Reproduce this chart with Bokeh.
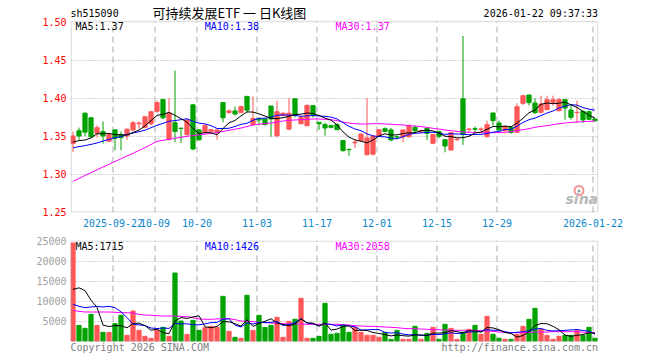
from bokeh.plotting import figure
from bokeh.models import (Range1d, FixedTicker, Label, ColumnDataSource,
                          PrintfTickFormatter, BoxAnnotation)
from bokeh.layouts import column
from bokeh.embed import file_html
from bokeh.resources import INLINE

# ---------------- data ----------------
open_ = [1.340, 1.357, 1.380, 1.374, 1.3535, 1.356, 1.343, 1.358, 1.352, 1.350,
         1.358, 1.366, 1.3614, 1.366, 1.3825, 1.398, 1.346, 1.3675, 1.3602, 1.352,
         1.391, 1.358, 1.355, 1.3557, 1.355, 1.394, 1.381, 1.383, 1.381, 1.402,
         1.365, 1.373, 1.3724, 1.3895, 1.350, 1.377, 1.359, 1.399, 1.366, 1.3636,
         1.390, 1.368, 1.365, 1.3636, 1.365, 1.344, 1.3325, 1.341, 1.344, 1.3254,
         1.326, 1.350, 1.3596, 1.358, 1.349, 1.349, 1.349, 1.3614, 1.3557, 1.360,
         1.3404, 1.3557, 1.3452, 1.3316, 1.3450, 1.399, 1.3588, 1.3596, 1.3588, 1.3491,
         1.3803, 1.3671, 1.3570, 1.3614, 1.3548, 1.3930, 1.4040, 1.3934, 1.3811, 1.3846,
         1.3943, 1.3833, 1.3978, 1.3842, 1.3807, 1.3825, 1.3820, 1.3724]
high = [1.356, 1.361, 1.381, 1.375, 1.364, 1.369, 1.353, 1.359, 1.356, 1.360,
        1.370, 1.369, 1.376, 1.382, 1.3965, 1.398, 1.400, 1.436, 1.3602, 1.372,
        1.392, 1.359, 1.366, 1.359, 1.358, 1.394, 1.385, 1.3886, 1.390, 1.403,
        1.402, 1.374, 1.3724, 1.3895, 1.3965, 1.381, 1.400, 1.399, 1.3768, 1.392,
        1.390, 1.368, 1.3675, 1.365, 1.3667, 1.3447, 1.3325, 1.346, 1.3526, 1.400,
        1.350, 1.359, 1.3614, 1.3605, 1.3504, 1.358, 1.365, 1.3636, 1.358, 1.3614,
        1.3526, 1.357, 1.3452, 1.3544, 1.3469, 1.4816, 1.3601, 1.3627, 1.3614, 1.3702,
        1.3803, 1.3702, 1.3627, 1.3632, 1.3930, 1.4031, 1.4040, 1.3996, 1.4031, 1.4031,
        1.4031, 1.4000, 1.3978, 1.3912, 1.3965, 1.3833, 1.3833, 1.3730]
low = [1.329, 1.345, 1.350, 1.348, 1.348, 1.340, 1.342, 1.331, 1.331, 1.345,
       1.356, 1.359, 1.360, 1.364, 1.381, 1.372, 1.344, 1.342, 1.341, 1.350,
       1.331, 1.344, 1.353, 1.355, 1.345, 1.368, 1.379, 1.3768, 1.380, 1.381,
       1.3636, 1.364, 1.364, 1.349, 1.350, 1.376, 1.358, 1.3745, 1.3658, 1.3627,
       1.3745, 1.358, 1.3504, 1.360, 1.358, 1.3294, 1.324, 1.334, 1.343, 1.3246,
       1.3246, 1.349, 1.3548, 1.343, 1.346, 1.3417, 1.348, 1.3535, 1.3535, 1.3447,
       1.3395, 1.3469, 1.3285, 1.3307, 1.3439, 1.3382, 1.3548, 1.3548, 1.3548, 1.3482,
       1.3636, 1.3570, 1.3557, 1.3530, 1.3539, 1.3908, 1.3904, 1.3793, 1.3803, 1.3842,
       1.3899, 1.3825, 1.3715, 1.3715, 1.3671, 1.3671, 1.3711, 1.3697]
close = [1.350, 1.350, 1.355, 1.349, 1.361, 1.350, 1.352, 1.347, 1.348, 1.359,
         1.3675, 1.367, 1.3754, 1.382, 1.394, 1.374, 1.380, 1.356, 1.3600, 1.371,
         1.333, 1.345, 1.3636, 1.3583, 1.358, 1.374, 1.383, 1.379, 1.3886, 1.384,
         1.373, 1.371, 1.365, 1.3724, 1.382, 1.380, 1.380, 1.377, 1.3746, 1.390,
         1.3768, 1.366, 1.3605, 1.3614, 1.3583, 1.3307, 1.332, 1.342, 1.3526, 1.3474,
         1.350, 1.3583, 1.3561, 1.3447, 1.3487, 1.358, 1.3636, 1.357, 1.357, 1.3535,
         1.3518, 1.3496, 1.3368, 1.3544, 1.3456, 1.3522, 1.3592, 1.3588, 1.3592, 1.3649,
         1.3702, 1.3579, 1.3627, 1.3548, 1.3886, 1.4031, 1.3939, 1.3807, 1.3921, 1.3978,
         1.3978, 1.3978, 1.3868, 1.3746, 1.3811, 1.3711, 1.3720, 1.3700]
volume = [24500, 3900, 3170, 6670, 3900, 2170, 2170, 4330, 6420, 1420,
          7500, 2670, 1170, 670, 2670, 3420, 1170, 17000, 5000, 1670,
          5170, 2670, 3330, 3670, 3420, 11170, 2420, 920, 670, 11420,
          2670, 6420, 3420, 3920, 5920, 920, 4920, 5420, 10670, 670,
          670, 1170, 9420, 1670, 1920, 3920, 2170, 3420, 2170, 1420,
          1420, 920, 2170, 420, 2670, 420, 420, 3670, 420, 1920,
          3420, 420, 4170, 3170, 420, 2170, 2920, 3920, 1670, 6170,
          1670, 670, 420, 420, 1670, 3670, 5420, 8170, 2920, 1420,
          420, 1170, 1420, 1420, 2670, 1420, 3420, 670]
ma5 = [1.3421, 1.3439, 1.3447, 1.3474, 1.3530, 1.3530, 1.3534, 1.3518, 1.3516, 1.3512,
       1.3547, 1.3577, 1.3634, 1.3702, 1.3772, 1.3785, 1.3811, 1.3772, 1.3728, 1.3682,
       1.3600, 1.3530, 1.3545, 1.3542, 1.3516, 1.3598, 1.3674, 1.3705, 1.3765, 1.3817,
       1.3815, 1.3791, 1.3763, 1.3731, 1.3727, 1.3741, 1.3759, 1.3783, 1.3787, 1.3803,
       1.3797, 1.3769, 1.3736, 1.3709, 1.3646, 1.3554, 1.3486, 1.3449, 1.3431, 1.3409,
       1.3448, 1.3501, 1.3529, 1.3513, 1.3516, 1.3532, 1.3542, 1.3544, 1.3569, 1.3578,
       1.3566, 1.3538, 1.3497, 1.3492, 1.3476, 1.3477, 1.3496, 1.3540, 1.3550, 1.3589,
       1.3625, 1.3622, 1.3630, 1.3621, 1.3668, 1.3734, 1.3806, 1.3842, 1.3917, 1.3935,
       1.3925, 1.3932, 1.3945, 1.3910, 1.3876, 1.3823, 1.3771, 1.3738]
ma10 = [1.3345, 1.3360, 1.3373, 1.3390, 1.3408, 1.3434, 1.3456, 1.3478, 1.3491, 1.3521,
        1.3539, 1.3556, 1.3576, 1.3609, 1.3642, 1.3666, 1.3694, 1.3703, 1.3715, 1.3727,
        1.3692, 1.3670, 1.3659, 1.3635, 1.3599, 1.3599, 1.3602, 1.3625, 1.3654, 1.3667,
        1.3707, 1.3733, 1.3734, 1.3748, 1.3772, 1.3778, 1.3775, 1.3773, 1.3759, 1.3765,
        1.3769, 1.3764, 1.3759, 1.3748, 1.3725, 1.3675, 1.3627, 1.3592, 1.3570, 1.3528,
        1.3501, 1.3493, 1.3489, 1.3472, 1.3463, 1.3490, 1.3521, 1.3536, 1.3541, 1.3547,
        1.3549, 1.3540, 1.3521, 1.3530, 1.3527, 1.3522, 1.3517, 1.3519, 1.3521, 1.3533,
        1.3551, 1.3559, 1.3585, 1.3586, 1.3629, 1.3679, 1.3714, 1.3736, 1.3769, 1.3802,
        1.3829, 1.3869, 1.3893, 1.3913, 1.3906, 1.3874, 1.3852, 1.3841]
ma30 = [1.2905, 1.2942, 1.2980, 1.3018, 1.3055, 1.3092, 1.3128, 1.3165, 1.3200, 1.3237,
        1.3272, 1.3310, 1.3348, 1.3388, 1.3430, 1.3443, 1.3456, 1.3470, 1.3483, 1.3496,
        1.3505, 1.3515, 1.3525, 1.3535, 1.3545, 1.3560, 1.3575, 1.3590, 1.3605, 1.3625,
        1.3645, 1.3654, 1.3662, 1.3671, 1.3684, 1.3697, 1.3706, 1.3711, 1.3715, 1.3719,
        1.3724, 1.3724, 1.3719, 1.3715, 1.3702, 1.3684, 1.3671, 1.3662, 1.3658, 1.3658,
        1.3662, 1.3662, 1.3658, 1.3654, 1.3649, 1.3645, 1.3636, 1.3632, 1.3623, 1.3614,
        1.3601, 1.3592, 1.3579, 1.3570, 1.3561, 1.3553, 1.3548, 1.3548, 1.3544, 1.3544,
        1.3544, 1.3544, 1.3548, 1.3557, 1.3570, 1.3583, 1.3596, 1.3614, 1.3627, 1.3636,
        1.3649, 1.3662, 1.3671, 1.3680, 1.3684, 1.3689, 1.3693, 1.3697]
vma5 = [12900, 13300, 12600, 10200, 8428, 3962, 3616, 3848, 3798, 3302,
        4368, 4468, 3836, 2686, 2936, 2120, 1820, 4986, 5852, 5652,
        6002, 6302, 3568, 3302, 3652, 4852, 4802, 4320, 3720, 5320,
        3620, 4420, 4920, 5570, 4470, 4120, 3820, 4220, 5570, 4520,
        4470, 3720, 4520, 2720, 2970, 3620, 3820, 2620, 2720, 2620,
        2120, 1870, 1620, 1270, 1520, 1320, 1220, 1520, 1520, 1370,
        1970, 1970, 2070, 2620, 2320, 2070, 2570, 2520, 2220, 3370,
        3270, 2820, 2120, 1870, 970, 1370, 2320, 3870, 4370, 4320,
        3670, 2820, 1470, 1170, 1420, 1620, 2070, 1920]
vma10 = [9170, 8670, 8330, 8500, 8670, 8500, 8670, 8330, 7300, 5865,
         4165, 4042, 3842, 3242, 3119, 3244, 3144, 4411, 4269, 4294,
         4061, 4061, 4277, 4577, 4652, 5427, 5552, 3944, 3511, 4486,
         4236, 4611, 4620, 4645, 4895, 3870, 4120, 4570, 5570, 4495,
         4295, 3770, 4370, 4145, 3745, 4045, 3770, 3570, 2720, 2795,
         2870, 2845, 2120, 1995, 2070, 1720, 1545, 1570, 1395, 1445,
         1645, 1595, 1795, 2070, 1845, 2020, 2270, 2295, 2420, 2845,
         2670, 2695, 2320, 2045, 2170, 2320, 2570, 2995, 3120, 2645,
         2520, 2570, 2670, 2770, 2870, 2645, 2445, 1695]
vma30 = [7670, 7420, 7250, 7250, 7250, 7250, 7250, 7170, 7080, 7080,
         7000, 6670, 6500, 6420, 6330, 6250, 6250, 6250, 6170, 6080,
         5830, 5500, 5420, 5420, 5500, 5580, 5580, 5330, 5000, 4920,
         4830, 4670, 4580, 4500, 4420, 4330, 4250, 4250, 4250, 4170,
         4170, 4170, 4170, 4170, 4170, 4080, 4000, 3830, 3750, 3670,
         3670, 3580, 3500, 3420, 3330, 3170, 3080, 3080, 3000, 2920,
         2830, 2830, 2750, 2670, 2670, 2670, 2670, 2670, 2580, 2500,
         2420, 2250, 2170, 2080, 2080, 2080, 2170, 2250, 2250, 2250,
         2330, 2330, 2330, 2330, 2330, 2200, 2150, 2100]
date_labels = ["2025-09-22", "10-09", "10-20", "11-03", "11-17",
               "12-01", "12-15", "12-29", "2026-01-22"]
date_index = [7, 14, 21, 31, 41, 51, 61, 71, 87]
price_ticks = [1.25, 1.30, 1.35, 1.40, 1.45, 1.50]
vol_ticks = [5000, 10000, 15000, 20000, 25000]
legend_price = ["MA5:1.37", "MA10:1.38", "MA30:1.37"]
legend_vol = ["MA5:1715", "MA10:1426", "MA30:2058"]

# ---------------- styling ----------------
RED = "#ff5757"
GREEN = "#00a300"
MONO = "DejaVu Sans Mono"
GRIDC = "#ababab"
BORDC = "#9a9a9a"
W = 656

n = len(close)
xs = [i + 1.0 / 3.0 for i in range(n)]
colors = [RED if c >= o else GREEN for o, c in zip(open_, close)]
src = ColumnDataSource(dict(
    x=xs, open=open_, high=high, low=low, close=close,
    top=[max(o, c) for o, c in zip(open_, close)],
    bottom=[min(o, c) for o, c in zip(open_, close)],
    color=colors, volume=volume,
    ma5=ma5, ma10=ma10, ma30=ma30, vma5=vma5, vma10=vma10, vma30=vma30))

# page-pixel helpers (frame of price panel spans page y 0..212, volume 240..356)
X0 = -1.0 / 12.0
xr = Range1d(X0, X0 + 88)
PEND = 1.50 + 0.5 / 760            # price at page y = 21
yr = Range1d(1.25 - 0.5 / 760, PEND + 21 / 760)
VEND = 25125                       # volume at page y = 240
vr = Range1d(VEND - 116 * 250, VEND)


def X(px):
    return X0 + (px - 70) / 6.0


def PY(py):
    return PEND - (py - 21) / 760.0


def VY(py):
    return VEND - (py - 240) * 250.0


def lab(fig, x, y, text, color="black", align="left", font=MONO, size="10px"):
    fig.add_layout(Label(x=x, y=y, text=text, text_font=font, text_font_size=size,
                         text_color=color, text_align=align, text_baseline="middle"))


def base(fig):
    fig.outline_line_color = None
    fig.background_fill_color = "white"
    fig.border_fill_color = "white"
    fig.yaxis.major_label_text_font = MONO
    fig.yaxis.major_label_text_font_size = "10px"
    fig.yaxis.major_label_standoff = 4
    fig.yaxis.axis_line_color = None
    fig.yaxis.major_tick_line_color = None
    fig.yaxis.minor_tick_line_color = None
    fig.yaxis.major_tick_out = 0
    fig.yaxis.major_tick_in = 0
    fig.ygrid.grid_line_color = GRIDC
    fig.ygrid.grid_line_dash = "1 2"


# ---------------- price panel (page y 0..234) ----------------
p = figure(width=W, height=234, x_range=xr, y_range=yr,
           output_backend="svg", toolbar_location=None,
           min_border_left=70, min_border_right=W - 598,
           min_border_top=0, min_border_bottom=22)
base(p)
p.xaxis.ticker = FixedTicker(ticks=date_index)
p.xaxis.major_label_overrides = dict(zip(date_index, date_labels))
p.xaxis.major_label_text_color = "#0a86cc"
p.xaxis.major_label_text_font = MONO
p.xaxis.major_label_text_font_size = "10px"
p.xaxis.major_label_standoff = 6
p.xaxis.axis_line_color = None
p.xaxis.major_tick_line_color = None
p.xaxis.minor_tick_line_color = None
p.xaxis.major_tick_out = 0
p.xaxis.major_tick_in = 0
p.xgrid.grid_line_color = None
p.yaxis.ticker = FixedTicker(ticks=price_ticks)
p.yaxis.formatter = PrintfTickFormatter(format="%.2f")
p.yaxis.major_label_text_color = "#ff0000"
p.ygrid.ticker = FixedTicker(ticks=price_ticks[1:-1])

# vertical dashed date lines
p.segment(x0=date_index, y0=[yr.start] * len(date_index), x1=date_index,
          y1=[PEND] * len(date_index), line_color=GRIDC, line_width=1, line_dash="6 4")

# sina watermark
p.add_layout(Label(x=X(565), y=PY(198.5), text="sina", text_font="DejaVu Sans",
                   text_font_style="bold italic", text_font_size="14px",
                   text_color="#b8b8b8", text_baseline="middle", text_align="left"))
p.scatter([X(578.5)], [PY(190)], size=9, fill_color=None, line_color="#f07878",
          line_width=2, line_alpha=0.8)
p.scatter([X(578.5)], [PY(190.5)], size=3, fill_color="#999999", line_color=None)

p.segment(x0="x", y0="low", x1="x", y1="high", line_color="color", line_width=1, source=src)
p.vbar(x="x", width=0.7, top="top", bottom="bottom", fill_color="color",
       line_color="color", line_width=1, source=src)
p.line("x", "ma30", source=src, line_color="#ff00ff", line_width=1)
p.line("x", "ma10", source=src, line_color="#0000ff", line_width=1)
p.line("x", "ma5", source=src, line_color="#000000", line_width=1)

p.add_layout(BoxAnnotation(left=X(70.75), right=X(597.25), top=PY(21), bottom=PY(211.5),
                           fill_alpha=0, line_color=BORDC, line_width=1.5))

lab(p, X(75), PY(26), legend_price[0], "#000000")
lab(p, X(204.3), PY(26), legend_price[1], "#0000ff")
lab(p, X(335), PY(26), legend_price[2], "#ff00ff")
lab(p, X(70), PY(12.5), "sh515090")
lab(p, X(152), PY(12), "可持续发展ETF 一 日K线图", font="Noto Sans CJK SC", size="13px")
lab(p, X(597.5), PY(12.5), "2026-01-22 09:37:33", align="right")

# ---------------- volume panel (page y 234..356) ----------------
q = figure(width=W, height=122, x_range=xr, y_range=vr,
           output_backend="svg", toolbar_location=None, x_axis_location=None,
           min_border_left=70, min_border_right=W - 598,
           min_border_top=6, min_border_bottom=0)
base(q)
q.xgrid.grid_line_color = None
q.yaxis.ticker = FixedTicker(ticks=vol_ticks)
q.yaxis.formatter = PrintfTickFormatter(format="%d")
q.yaxis.major_label_text_color = "#a0a0a0"
q.ygrid.ticker = FixedTicker(ticks=vol_ticks[:-1])

q.segment(x0=date_index, y0=[VY(341)] * len(date_index), x1=date_index,
          y1=[VEND] * len(date_index), line_color=GRIDC, line_width=1, line_dash="6 4")

q.vbar(x="x", width=0.7, top="volume", bottom=0, fill_color="color",
       line_color="color", line_width=1, source=src)
q.line("x", "vma30", source=src, line_color="#ff00ff", line_width=1)
q.line("x", "vma10", source=src, line_color="#0000ff", line_width=1)
q.line("x", "vma5", source=src, line_color="#000000", line_width=1)

q.add_layout(BoxAnnotation(left=X(70.75), right=X(597.25), top=VY(240.5), bottom=VY(340.75),
                           fill_alpha=0, line_color=BORDC, line_width=1.5))

lab(q, X(75), VY(246.3), legend_vol[0], "#000000")
lab(q, X(204.3), VY(246.3), legend_vol[1], "#0000ff")
lab(q, X(335), VY(246.3), legend_vol[2], "#ff00ff")
lab(q, X(70), VY(346.5), "Copyright 2026 SINA.COM", "#808080")
lab(q, X(597.5), VY(346.5), "http://finance.sina.com.cn", "#808080", align="right")

layout = column(p, q, spacing=0)
open("out.html", "w").write(file_html(layout, INLINE))
